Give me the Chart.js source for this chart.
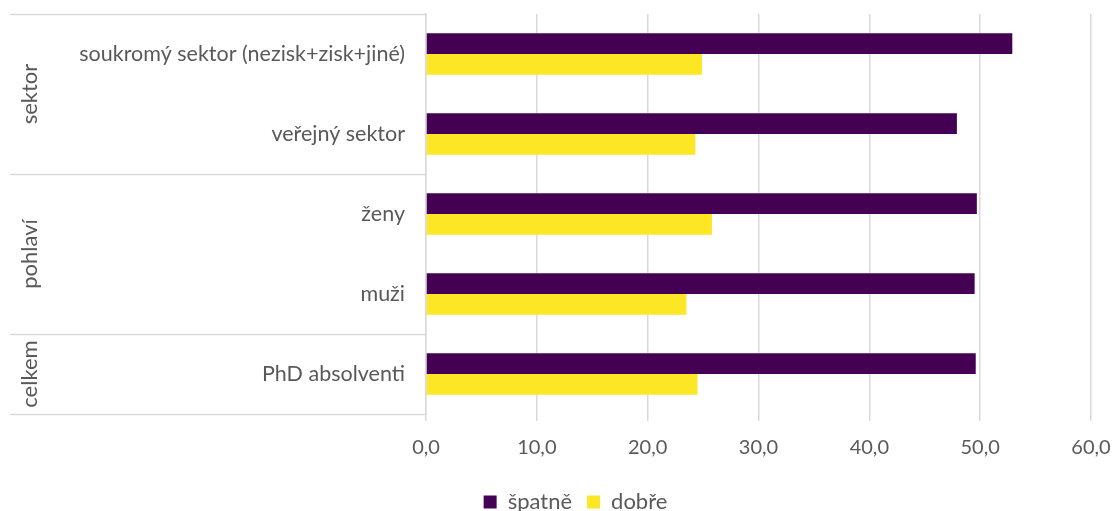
<!DOCTYPE html>
<html>
<head>
<meta charset="utf-8">
<script src="https://cdn.jsdelivr.net/npm/chart.js@4.4.1/dist/chart.umd.min.js"></script>
<style>
html,body{margin:0;padding:0;background:#fff;}
#wrap{width:1113px;height:511px;position:relative;}
</style>
</head>
<body>
<div id="wrap"><canvas id="c" width="1113" height="511"></canvas></div>
<script>
const categories = ['soukromý sektor (nezisk+zisk+jiné)', 'veřejný sektor', 'ženy', 'muži', 'PhD absolventi'];
const spatne = [52.9, 47.9, 49.7, 49.5, 49.6];
const dobre = [24.9, 24.3, 25.8, 23.5, 24.5];
const seriesNames = ['špatně', 'dobře'];
const groupNames = ['sektor', 'pohlaví', 'celkem'];
const groupSizes = [2, 2, 1];
const xTicksMax = 60;

const FONT = 'Lato, "Open Sans", sans-serif';
const TXT = '#595959';
const LINE = '#d9d9d9';

const groupPlugin = {
  id: 'groups',
  afterLayout(chart) {
    const lg = chart.legend;
    if (lg) { lg.left += 30; lg.right += 30; }
  },
  afterDraw(chart) {
    const ctx = chart.ctx;
    const ca = chart.chartArea;
    const y = chart.scales.y;
    ctx.save();
    ctx.strokeStyle = LINE;
    ctx.lineWidth = 1.5;
    let idx = 0;
    const bounds = [-0.5];
    groupSizes.forEach(s => { idx += s; bounds.push(idx - 0.5); });
    bounds.forEach(b => {
      const py = Math.round(y.getPixelForValue(b)) + 0.5;
      ctx.beginPath();
      ctx.moveTo(10, py);
      ctx.lineTo(ca.left, py);
      ctx.stroke();
    });
    ctx.fillStyle = TXT;
    ctx.font = '22px ' + FONT;
    ctx.textAlign = 'center';
    ctx.textBaseline = 'middle';
    for (let i = 0; i < groupNames.length; i++) {
      const y0 = y.getPixelForValue(bounds[i]);
      const y1 = y.getPixelForValue(bounds[i + 1]);
      ctx.save();
      ctx.translate(30, (y0 + y1) / 2);
      ctx.rotate(-Math.PI / 2);
      ctx.fillText(groupNames[i], 0, 0);
      ctx.restore();
    }
    ctx.restore();
  }
};

new Chart(document.getElementById('c'), {
  type: 'bar',
  data: {
    labels: categories,
    datasets: [
      { label: seriesNames[0], data: spatne, backgroundColor: '#440154', borderWidth: 0 },
      { label: seriesNames[1], data: dobre, backgroundColor: '#FDE725', borderWidth: 0 }
    ]
  },
  options: {
    indexAxis: 'y',
    responsive: false,
    animation: false,
    devicePixelRatio: 1,
    layout: { padding: { top: 14, right: 22, left: 0, bottom: -12 } },
    datasets: { bar: { categoryPercentage: 0.52, barPercentage: 1.0 } },
    scales: {
      x: {
        min: 0, max: xTicksMax,
        afterFit(scale) { scale.paddingLeft = 0; scale.paddingRight = 0; scale.height += 1; },
        ticks: {
          stepSize: 10,
          color: TXT,
          font: { family: FONT, size: 20 },
          padding: 15,
          callback: v => v.toFixed(1).replace('.', ',')
        },
        grid: { color: LINE, lineWidth: 1.5, tickLength: 7, drawTicks: true },
        border: { display: false }
      },
      y: {
        afterFit(scale) { scale.width = 426; scale.paddingTop = 0; scale.paddingBottom = 0; },
        ticks: {
          color: TXT,
          font: { family: FONT, size: 21.5 },
          padding: 21
        },
        grid: { display: false, drawTicks: false },
        border: { display: true, color: LINE, width: 1.5 }
      }
    },
    plugins: {
      legend: {
        position: 'bottom',
        labels: {
          color: TXT,
          font: { family: FONT, size: 22 },
          boxWidth: 13, boxHeight: 13,
          padding: 15
        }
      },
      tooltip: { enabled: false }
    }
  },
  plugins: [groupPlugin]
});
</script>
</body>
</html>
